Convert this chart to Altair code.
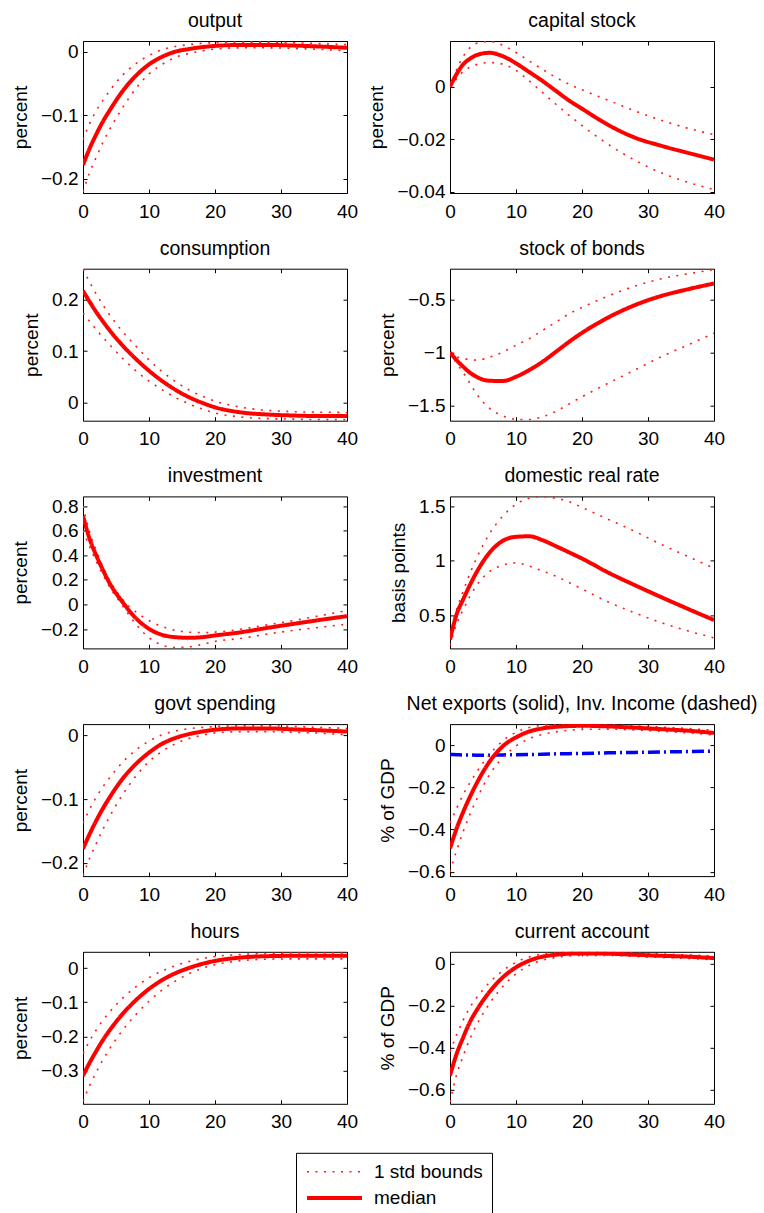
import altair as alt
import pandas as pd

# horizon (quarters)
X = [0, 1, 2, 3, 4, 6, 8, 10, 12, 14, 16, 18, 20, 24, 28, 32, 36, 40]
SER = ["1 std bounds", "median"]

out_med = [-0.178, -0.152, -0.13, -0.11, -0.093, -0.062, -0.038, -0.02, -0.008, 0.0, 0.004, 0.007, 0.009, 0.0105, 0.0105, 0.0095, 0.008, 0.006]
out_hi = [-0.138, -0.113, -0.093, -0.077, -0.062, -0.037, -0.019, -0.006, 0.003, 0.008, 0.011, 0.013, 0.014, 0.015, 0.015, 0.014, 0.0125, 0.011]
out_lo = [-0.22, -0.19, -0.166, -0.143, -0.123, -0.088, -0.058, -0.035, -0.02, -0.009, -0.003, 0.001, 0.004, 0.006, 0.006, 0.005, 0.0035, 0.001]

cap_med = [0.0, 0.0048, 0.0085, 0.0106, 0.012, 0.0129, 0.0116, 0.0089, 0.0056, 0.0022, -0.0015, -0.0052, -0.0084, -0.0146, -0.0194, -0.0225, -0.0252, -0.0278]
cap_hi = [0.0, 0.0065, 0.0115, 0.0148, 0.0165, 0.0172, 0.0158, 0.013, 0.0098, 0.0066, 0.0036, 0.001, -0.0012, -0.0052, -0.0092, -0.0128, -0.0158, -0.0183]
cap_lo = [0.0, 0.003, 0.0058, 0.0074, 0.0084, 0.0092, 0.0086, 0.0062, 0.0022, -0.0022, -0.0066, -0.0108, -0.0148, -0.022, -0.028, -0.0328, -0.0364, -0.0392]

con_med = [0.217, 0.196, 0.176, 0.158, 0.141, 0.111, 0.085, 0.062, 0.042, 0.025, 0.011, 0.0, -0.009, -0.019, -0.023, -0.025, -0.026, -0.026]
con_hi = [0.259, 0.234, 0.211, 0.19, 0.171, 0.138, 0.11, 0.083, 0.06, 0.041, 0.025, 0.013, 0.003, -0.009, -0.015, -0.0175, -0.0185, -0.019]
con_lo = [0.174, 0.158, 0.142, 0.127, 0.113, 0.086, 0.062, 0.042, 0.025, 0.01, -0.002, -0.012, -0.02, -0.028, -0.031, -0.032, -0.033, -0.033]

bond_med = [-1.0, -1.072, -1.134, -1.19, -1.23, -1.268, -1.27, -1.23, -1.166, -1.088, -0.995, -0.9, -0.813, -0.666, -0.55, -0.463, -0.4, -0.344]
bond_hi = [-1.0, -1.04, -1.056, -1.066, -1.072, -1.045, -0.995, -0.93, -0.869, -0.79, -0.713, -0.634, -0.572, -0.463, -0.37, -0.3, -0.253, -0.213]
bond_lo = [-1.0, -1.1, -1.19, -1.29, -1.39, -1.53, -1.6, -1.634, -1.636, -1.61, -1.56, -1.49, -1.42, -1.29, -1.166, -1.04, -0.93, -0.815]

inv_med = [0.719, 0.534, 0.399, 0.282, 0.176, 0.019, -0.111, -0.198, -0.247, -0.266, -0.271, -0.266, -0.252, -0.225, -0.19, -0.157, -0.125, -0.095]
inv_hi = [0.8, 0.59, 0.44, 0.31, 0.2, 0.04, -0.06, -0.13, -0.18, -0.21, -0.225, -0.228, -0.225, -0.2, -0.165, -0.13, -0.09, -0.05]
inv_lo = [0.6, 0.47, 0.35, 0.245, 0.145, -0.01, -0.16, -0.27, -0.33, -0.35, -0.345, -0.325, -0.3, -0.275, -0.24, -0.21, -0.185, -0.16]

rr_med = [0.275, 0.506, 0.645, 0.774, 0.891, 1.075, 1.183, 1.22, 1.225, 1.19, 1.135, 1.078, 1.02, 0.89, 0.775, 0.665, 0.558, 0.454]
rr_hi = [0.32, 0.55, 0.72, 0.88, 1.02, 1.25, 1.41, 1.52, 1.575, 1.59, 1.575, 1.545, 1.49, 1.38, 1.27, 1.15, 1.04, 0.93]
rr_lo = [0.22, 0.42, 0.55, 0.67, 0.77, 0.9, 0.96, 0.98, 0.95, 0.905, 0.86, 0.8, 0.74, 0.62, 0.52, 0.43, 0.355, 0.29]

gov_med = [-0.178, -0.155, -0.134, -0.115, -0.098, -0.068, -0.045, -0.027, -0.013, -0.004, 0.002, 0.006, 0.009, 0.011, 0.011, 0.0095, 0.008, 0.006]
gov_hi = [-0.138, -0.116, -0.097, -0.081, -0.067, -0.042, -0.023, -0.009, 0.001, 0.007, 0.0105, 0.0125, 0.014, 0.015, 0.015, 0.014, 0.0125, 0.011]
gov_lo = [-0.22, -0.193, -0.17, -0.148, -0.128, -0.093, -0.064, -0.041, -0.025, -0.013, -0.005, 0.0, 0.004, 0.006, 0.006, 0.005, 0.0035, 0.001]

nx_med = [-0.49, -0.396, -0.317, -0.247, -0.184, -0.0785, -0.006, 0.036, 0.064, 0.0785, 0.086, 0.0895, 0.091, 0.088, 0.082, 0.075, 0.068, 0.057]
nx_hi = [-0.37, -0.3, -0.235, -0.18, -0.13, -0.045, 0.02, 0.06, 0.083, 0.093, 0.097, 0.098, 0.098, 0.096, 0.091, 0.085, 0.078, 0.07]
nx_lo = [-0.6, -0.5, -0.41, -0.33, -0.26, -0.14, -0.06, -0.005, 0.03, 0.05, 0.062, 0.07, 0.074, 0.075, 0.071, 0.065, 0.058, 0.048]
inc_med = [-0.045, -0.046, -0.047, -0.0475, -0.048, -0.048, -0.047, -0.046, -0.045, -0.044, -0.042, -0.041, -0.04, -0.037, -0.035, -0.033, -0.031, -0.029]

hrs_med = [-0.315, -0.277, -0.243, -0.211, -0.183, -0.134, -0.094, -0.061, -0.035, -0.015, 0.0, 0.012, 0.021, 0.031, 0.035, 0.036, 0.036, 0.036]
hrs_hi = [-0.25, -0.213, -0.181, -0.153, -0.129, -0.088, -0.055, -0.028, -0.008, 0.007, 0.019, 0.028, 0.034, 0.04, 0.043, 0.044, 0.044, 0.044]
hrs_lo = [-0.39, -0.344, -0.305, -0.269, -0.237, -0.182, -0.136, -0.097, -0.064, -0.038, -0.017, -0.001, 0.01, 0.022, 0.026, 0.027, 0.027, 0.027]

ca_med = [-0.534, -0.431, -0.352, -0.28, -0.225, -0.135, -0.0665, -0.019, 0.0127, 0.0317, 0.041, 0.046, 0.0475, 0.046, 0.041, 0.036, 0.032, 0.025]
ca_hi = [-0.42, -0.34, -0.27, -0.21, -0.165, -0.09, -0.035, 0.005, 0.03, 0.045, 0.052, 0.055, 0.056, 0.054, 0.05, 0.045, 0.04, 0.035]
ca_lo = [-0.66, -0.53, -0.44, -0.36, -0.295, -0.19, -0.11, -0.05, -0.01, 0.015, 0.028, 0.035, 0.038, 0.038, 0.033, 0.028, 0.024, 0.017]

XTICKS = [0, 10, 20, 30, 40]
W, H = 264, 152
TICK = 4
FONT = "Liberation Sans"


def make_panel(title, ytitle, med, lo, hi, dom, yvals, inc=None, legend=False):
    rows = []
    for xi, a, b, c in zip(X, lo, hi, med):
        rows.append({"x": xi, "v": a, "band": "lower", "series": SER[0]})
        rows.append({"x": xi, "v": b, "band": "upper", "series": SER[0]})
        rows.append({"x": xi, "v": c, "band": "median", "series": SER[1]})
    df = pd.DataFrame(rows)
    xs = alt.Scale(domain=[0, 40], nice=False, zero=False)
    ys = alt.Scale(domain=dom, nice=False, zero=False)

    if legend:
        leg = alt.Legend(orient="none", legendX=213, legendY=201, title=None,
                         fillColor="white", strokeColor="black", padding=9,
                         symbolType="stroke", symbolSize=3025, labelFontSize=19,
                         labelOffset=10, rowPadding=6.3, clipHeight=20,
                         labelColor="black", labelFont=FONT)
    else:
        leg = None

    main = alt.Chart(df).mark_line(clip=True, interpolate="monotone").encode(
        x=alt.X("x:Q", scale=xs, axis=alt.Axis(values=XTICKS, ticks=False, domain=False, labelPadding=9,
                                               title=None, format="d", labelFlush=False, orient="bottom")),
        y=alt.Y("v:Q", scale=ys, axis=alt.Axis(values=yvals, ticks=False, domain=False, labelPadding=5,
                                               title=ytitle, titlePadding=10, format="~g",
                                               labelFlush=False, orient="left")),
        color=alt.Color("series:N", scale=alt.Scale(domain=SER, range=["#ff1a1a", "#ff0000"]), legend=leg),
        strokeDash=alt.StrokeDash("series:N", scale=alt.Scale(domain=SER, range=[[2, 6.5], [1, 0]]), legend=leg),
        strokeWidth=alt.StrokeWidth("series:N", scale=alt.Scale(domain=SER, range=[1.6, 4]), legend=leg),
        detail="band:N",
    )
    tick_a = alt.Chart(df).mark_line(opacity=0).encode(
        x=alt.X("x:Q", scale=xs, axis=alt.Axis(values=XTICKS, labels=False, domain=False, tickSize=TICK,
                                               offset=-TICK, title=None, orient="bottom", tickColor="black")),
        y=alt.Y("v:Q", scale=ys, axis=alt.Axis(values=yvals, labels=False, domain=False, tickSize=TICK,
                                               offset=-TICK, title=None, orient="left", tickColor="black")),
        detail="band:N",
    )
    tick_b = alt.Chart(df).mark_line(opacity=0).encode(
        x=alt.X("x:Q", scale=xs, axis=alt.Axis(values=XTICKS, labels=False, domain=False, tickSize=TICK,
                                               offset=-TICK, title=None, orient="top", tickColor="black")),
        y=alt.Y("v:Q", scale=ys, axis=alt.Axis(values=yvals, labels=False, domain=False, tickSize=TICK,
                                               offset=-TICK, title=None, orient="right", tickColor="black")),
        detail="band:N",
    )
    layers = [tick_a, tick_b]
    if inc is not None:
        dfi = pd.DataFrame({"x": X, "v": inc})
        blue = alt.Chart(dfi).mark_line(clip=True, interpolate="monotone", color="#0000ff",
                                        strokeWidth=3.5, strokeDash=[12, 4, 2, 4]).encode(
            x=alt.X("x:Q", scale=xs, axis=None),
            y=alt.Y("v:Q", scale=ys, axis=None),
        )
        layers.append(blue)
    layers.append(main)
    return alt.layer(*layers).resolve_axis(x="independent", y="independent").properties(
        width=W, height=H, title=alt.TitleParams(text=title)
    )


panels = [
    make_panel("output", "percent", out_med, out_lo, out_hi, [-0.222, 0.0167], [-0.2, -0.1, 0]),
    make_panel("capital stock", "percent", cap_med, cap_lo, cap_hi, [-0.0405, 0.0174], [-0.04, -0.02, 0]),
    make_panel("consumption", "percent", con_med, con_lo, con_hi, [-0.035, 0.26], [0, 0.1, 0.2]),
    make_panel("stock of bonds", "percent", bond_med, bond_lo, bond_hi, [-1.647, -0.204], [-1.5, -1, -0.5]),
    make_panel("investment", "percent", inv_med, inv_lo, inv_hi, [-0.357, 0.878], [-0.2, 0, 0.2, 0.4, 0.6, 0.8]),
    make_panel("domestic real rate", "basis points", rr_med, rr_lo, rr_hi, [0.193, 1.592], [0.5, 1, 1.5]),
    make_panel("govt spending", "percent", gov_med, gov_lo, gov_hi, [-0.221, 0.0178], [-0.2, -0.1, 0]),
    make_panel("Net exports (solid), Inv. Income (dashed)", "% of GDP", nx_med, nx_lo, nx_hi,
               [-0.621, 0.099], [-0.6, -0.4, -0.2, 0], inc=inc_med),
    make_panel("hours", "percent", hrs_med, hrs_lo, hrs_hi, [-0.397, 0.0477], [-0.3, -0.2, -0.1, 0], legend=True),
    make_panel("current account", "% of GDP", ca_med, ca_lo, ca_hi, [-0.668, 0.055], [-0.6, -0.4, -0.2, 0]),
]

chart = alt.concat(*panels, columns=2, spacing={"row": 75.7, "column": 103}, bounds="flush").resolve_scale(
    color="independent", strokeDash="independent", strokeWidth="independent"
).properties(
    padding={"left": 10, "top": 10, "right": 0, "bottom": 0}
).configure(
    font=FONT
).configure_view(
    stroke="black", strokeWidth=1
).configure_axis(
    grid=False, labelFontSize=19, titleFontSize=19, titleFontWeight="normal",
    labelColor="black", titleColor="black", labelFont=FONT, titleFont=FONT
).configure_title(
    fontSize=19.5, fontWeight="normal", offset=9, color="black", font=FONT
)

chart.save("out.html", embed_options={"renderer": "svg", "actions": False})
